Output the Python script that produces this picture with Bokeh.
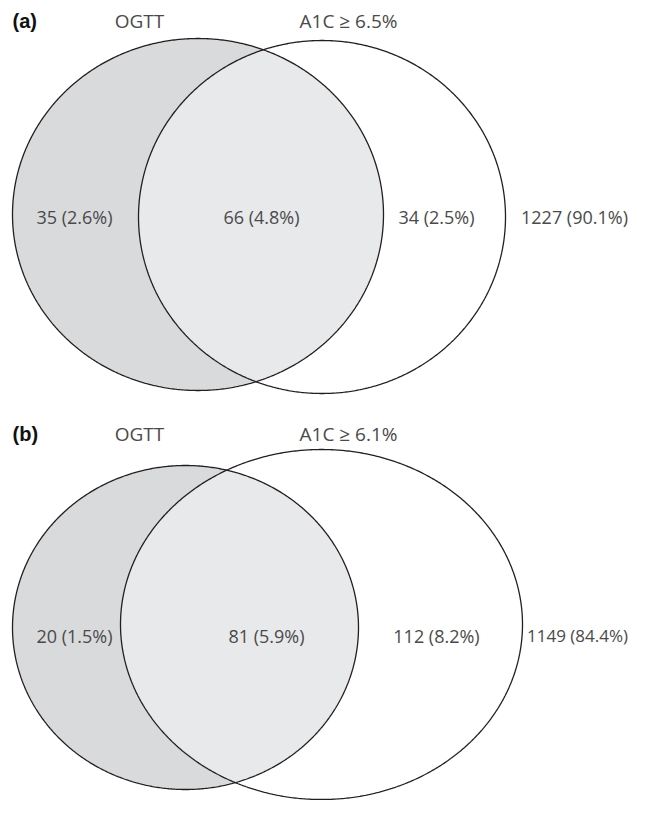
import numpy as np
from bokeh.plotting import figure
from bokeh.models import ColumnDataSource, Range1d
from bokeh.core.properties import value
from bokeh.embed import file_html
from bokeh.resources import INLINE

# ---- data ----
panel_tags = ["(a)", "(b)"]
set_left_names = ["OGTT", "OGTT"]
set_right_names = ["A1C \u2265 6.5%", "A1C \u2265 6.1%"]
left_only_n = [35, 20]
left_only_pct = [2.6, 1.5]
both_n = [66, 81]
both_pct = [4.8, 5.9]
right_only_n = [34, 112]
right_only_pct = [2.5, 8.2]
neither_n = [1227, 1149]
neither_pct = [90.1, 84.4]

# ---- layout (screen pixel coordinates) ----
W, H = 630, 800
# ellipse geometry per panel: (cx, cy, rx, ry)
left_ell = [(197.5, 214, 185.5, 176), (185, 627, 173, 162)]
right_ell = [(321.5, 216.5, 183.5, 176.5), (321, 624, 201, 175)]
title_y = [20, 433]
title_x = {"tag": 12, "left": 139, "right": 348}
label_y = [216, 635]
label_x = [[74, 261, 436, 574], [74, 266, 436, 577]]
label_size = [["18px", "18px", "18px", "18px"], ["18px", "18px", "18px", "17px"]]

FONT = value("Open Sans")
TXT = "#4a4a4a"

p = figure(width=W, height=H, output_backend="svg", toolbar_location=None,
           x_range=Range1d(0, W), y_range=Range1d(H, 0),
           min_border=0)
p.axis.visible = False
p.grid.visible = False
p.outline_line_color = None
p.background_fill_color = "white"


def ell_pts(cx, cy, rx, ry, n=720):
    t = np.linspace(0, 2 * np.pi, n, endpoint=False)
    return cx + rx * np.cos(t), cy + ry * np.sin(t)


def inside(x, y, e):
    cx, cy, rx, ry = e
    return ((x - cx) / rx) ** 2 + ((y - cy) / ry) ** 2 <= 1.0


for i in range(2):
    L = left_ell[i]
    R = right_ell[i]
    lx, ly = ell_pts(*L)
    p.patch(lx, ly, fill_color="#d9dadc", line_color=None)
    rx_, ry_ = ell_pts(*R)
    mA = inside(lx, ly, R)
    mB = inside(rx_, ry_, L)
    px = np.concatenate([lx[mA], rx_[mB]])
    py = np.concatenate([ly[mA], ry_[mB]])
    mx, my = px.mean(), py.mean()
    order = np.argsort(np.arctan2(py - my, px - mx))
    p.patch(px[order], py[order], fill_color="#e8e9eb", line_color=None)
    for e in (L, R):
        ex, ey = ell_pts(*e)
        p.patch(ex, ey, fill_color=None, line_color="#231f20", line_width=1.3)

    p.text(x=[title_x["tag"]], y=[title_y[i]], text=[panel_tags[i]],
           text_font=value("Liberation Sans"), text_font_style="bold",
           text_font_size="20px", text_color="#111111",
           text_align="left", text_baseline="middle")
    p.text(x=[title_x["left"], title_x["right"]], y=[title_y[i]] * 2,
           text=[set_left_names[i], set_right_names[i]],
           text_font=FONT, text_font_size="19px", text_color=TXT,
           text_align="center", text_baseline="middle")

    labs = [f"{left_only_n[i]} ({left_only_pct[i]}%)",
            f"{both_n[i]} ({both_pct[i]}%)",
            f"{right_only_n[i]} ({right_only_pct[i]}%)",
            f"{neither_n[i]} ({neither_pct[i]}%)"]
    src = ColumnDataSource(dict(x=label_x[i], y=[label_y[i]] * 4, t=labs,
                                fs=label_size[i]))
    p.text(x="x", y="y", text="t", source=src,
           text_font=FONT, text_font_size="fs", text_color=TXT,
           text_align="center", text_baseline="middle")

open("out.html", "w").write(file_html(p, INLINE))
